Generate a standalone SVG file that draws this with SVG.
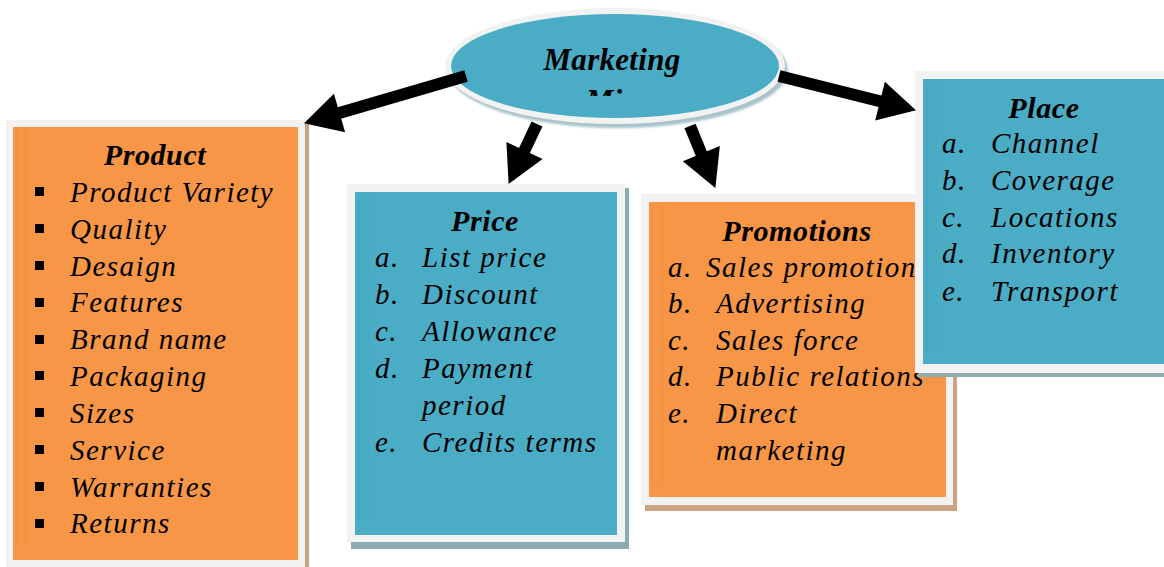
<svg xmlns="http://www.w3.org/2000/svg" width="1164" height="567" viewBox="0 0 1164 567">
  <style>
    .frame { fill: #f2f2f2; }
    .teal { fill: #4bacc6; }
    .orange { fill: #f79646; }
    .sh-tan { fill: #cca383; }
    .sh-blue { fill: #8eabb4; }
    .stripe { fill: none; stroke-width: 1.5; stroke-opacity: 0.35; }
    .head { font-family: "Liberation Serif", "Times New Roman", serif; font-style: italic; font-weight: bold; font-size: 30px; letter-spacing: 0.6px; fill: #000; text-anchor: middle; }
    .item { font-family: "Liberation Serif", "Times New Roman", serif; font-style: italic; font-size: 29px; letter-spacing: 1.5px; fill: #000; }
    .conn { stroke: #000; stroke-width: 12; fill: none; marker-end: url(#arrowhead); }
  </style>
  <defs>
    <marker id="arrowhead" markerUnits="userSpaceOnUse" markerWidth="38" markerHeight="42" refX="2" refY="20" orient="auto" overflow="visible">
      <path d="M0,0 L37,20 L0,40 Z" fill="#000"/>
    </marker>
    <clipPath id="ovalText">
      <rect x="450" y="14" width="330" height="82"/>
    </clipPath>
    <filter id="soft" x="-10%" y="-10%" width="120%" height="120%">
      <feGaussianBlur stdDeviation="1.2"/>
    </filter>
  </defs>

  <!-- Product -->
  <g id="product">
    <rect class="sh-tan" x="10" y="123" width="299" height="447"/>
    <rect class="frame" x="6" y="120" width="299" height="447"/>
    <rect class="orange" x="13" y="127" width="285" height="433"/>
    <line class="stripe" x1="17" y1="130" x2="17" y2="545" stroke="#f0812a"/>
    <line class="stripe" x1="26" y1="130" x2="26" y2="545" stroke="#f0812a"/>
    <text class="head" x="155" y="165">Product</text>
    <g fill="#000">
      <rect x="35" y="187" width="9" height="9"/>
      <rect x="35" y="224" width="9" height="9"/>
      <rect x="35" y="261" width="9" height="9"/>
      <rect x="35" y="298" width="9" height="9"/>
      <rect x="35" y="335" width="9" height="9"/>
      <rect x="35" y="371" width="9" height="9"/>
      <rect x="35" y="408" width="9" height="9"/>
      <rect x="35" y="445" width="9" height="9"/>
      <rect x="35" y="482" width="9" height="9"/>
      <rect x="35" y="519" width="9" height="9"/>
    </g>
    <text class="item" x="70" y="202">Product Variety</text>
    <text class="item" x="70" y="239">Quality</text>
    <text class="item" x="70" y="276">Desaign</text>
    <text class="item" x="70" y="312">Features</text>
    <text class="item" x="70" y="349">Brand name</text>
    <text class="item" x="70" y="386">Packaging</text>
    <text class="item" x="70" y="423">Sizes</text>
    <text class="item" x="70" y="460">Service</text>
    <text class="item" x="70" y="497">Warranties</text>
    <text class="item" x="70" y="533">Returns</text>
  </g>

  <!-- Price -->
  <g id="price">
    <rect class="sh-blue" x="351" y="188" width="278" height="361"/>
    <rect class="frame" x="347" y="184" width="278" height="358"/>
    <rect class="teal" x="355" y="192" width="262" height="343"/>
    <line class="stripe" x1="359" y1="195" x2="359" y2="520" stroke="#3f9fba"/>
    <line class="stripe" x1="368" y1="195" x2="368" y2="520" stroke="#3f9fba"/>
    <text class="head" x="485" y="231">Price</text>
    <text class="item" x="375" y="267">a.</text>
    <text class="item" x="422" y="267">List price</text>
    <text class="item" x="375" y="304">b.</text>
    <text class="item" x="422" y="304">Discount</text>
    <text class="item" x="375" y="341">c.</text>
    <text class="item" x="422" y="341">Allowance</text>
    <text class="item" x="375" y="378">d.</text>
    <text class="item" x="422" y="378">Payment</text>
    <text class="item" x="422" y="415">period</text>
    <text class="item" x="375" y="452">e.</text>
    <text class="item" x="422" y="452">Credits terms</text>
  </g>

  <!-- Promotions -->
  <g id="promotions">
    <rect class="sh-tan" x="645" y="198" width="312" height="313"/>
    <rect class="frame" x="641" y="194" width="312" height="311"/>
    <rect class="orange" x="649" y="202" width="297" height="295"/>
    <line class="stripe" x1="653" y1="205" x2="653" y2="485" stroke="#f0812a"/>
    <line class="stripe" x1="662" y1="205" x2="662" y2="485" stroke="#f0812a"/>
    <text class="head" x="797" y="241">Promotions</text>
    <text class="item" x="668" y="277">a.</text>
    <text class="item" x="706" y="277">Sales promotion</text>
    <text class="item" x="668" y="313">b.</text>
    <text class="item" x="716" y="313">Advertising</text>
    <text class="item" x="668" y="350">c.</text>
    <text class="item" x="716" y="350">Sales force</text>
    <text class="item" x="668" y="386">d.</text>
    <text class="item" x="716" y="386">Public relations</text>
    <text class="item" x="668" y="423">e.</text>
    <text class="item" x="716" y="423">Direct</text>
    <text class="item" x="716" y="460">marketing</text>
  </g>

  <!-- Place -->
  <g id="place">
    <rect class="sh-blue" x="919" y="75" width="250" height="302"/>
    <rect class="frame" x="915" y="71" width="254" height="302"/>
    <rect class="teal" x="923" y="79" width="246" height="285"/>
    <line class="stripe" x1="927" y1="82" x2="927" y2="355" stroke="#3f9fba"/>
    <line class="stripe" x1="936" y1="82" x2="936" y2="355" stroke="#3f9fba"/>
    <text class="head" x="1044" y="118">Place</text>
    <text class="item" x="942" y="153">a.</text>
    <text class="item" x="991" y="153">Channel</text>
    <text class="item" x="942" y="190">b.</text>
    <text class="item" x="991" y="190">Coverage</text>
    <text class="item" x="942" y="227">c.</text>
    <text class="item" x="991" y="227">Locations</text>
    <text class="item" x="942" y="263">d.</text>
    <text class="item" x="991" y="263">Inventory</text>
    <text class="item" x="942" y="301">e.</text>
    <text class="item" x="991" y="301">Transport</text>
  </g>

  <!-- Marketing Mix -->
  <g id="marketing-mix">
    <ellipse cx="618" cy="70" rx="170" ry="58" fill="#a9c3ca" filter="url(#soft)"/>
    <ellipse class="frame" cx="615" cy="66" rx="170" ry="58"/>
    <ellipse class="teal" cx="615" cy="66" rx="164" ry="52"/>
    <g clip-path="url(#ovalText)">
      <text class="head" x="612" y="70" style="font-size:31px;letter-spacing:0.3px">Marketing</text>
      <text class="head" x="612" y="111" style="font-size:31px;letter-spacing:0.3px">Mix</text>
    </g>
  </g>

  <!-- Connectors -->
  <g id="connectors">
    <line class="conn" x1="466" y1="76" x2="337.6" y2="113.5"/>
    <line class="conn" x1="537" y1="124" x2="523.6" y2="152.3"/>
    <line class="conn" x1="690" y1="126" x2="702.1" y2="155.5"/>
    <line class="conn" x1="779" y1="76" x2="882" y2="101.7"/>
  </g>
</svg>
